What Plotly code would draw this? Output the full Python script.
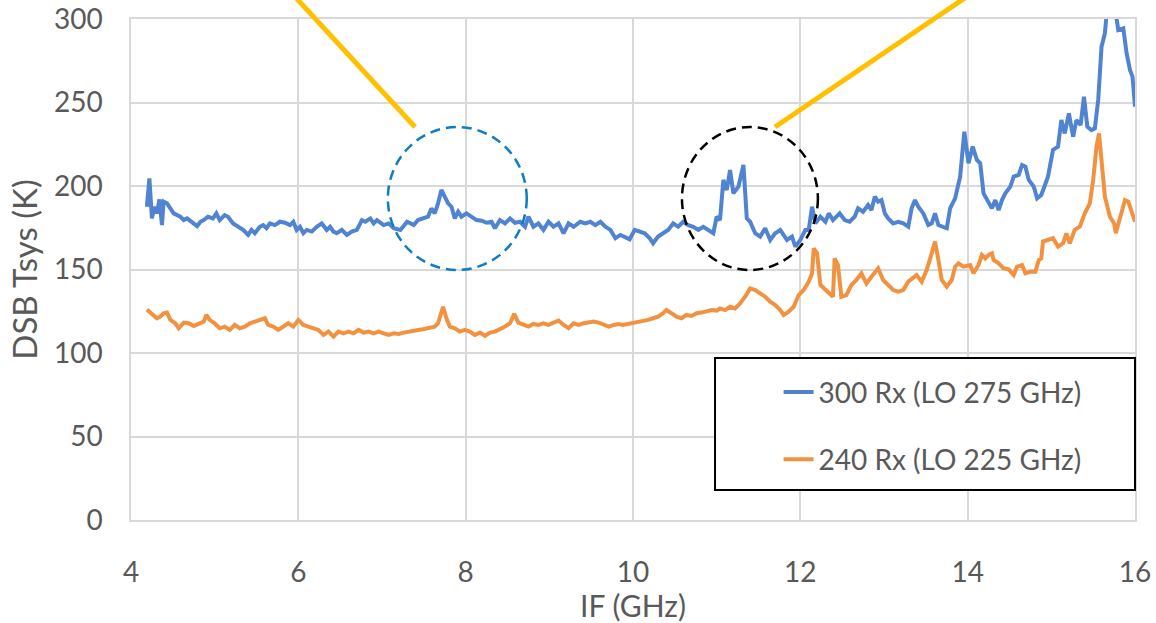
import plotly.graph_objects as go

# ---- data ----
if_300 = [4.19, 4.22, 4.25, 4.28, 4.31, 4.34, 4.37, 4.39, 4.43, 4.47, 4.51, 4.59, 4.63, 4.67, 4.73, 4.79,
          4.83, 4.87, 4.92, 4.98, 5.02, 5.06, 5.12, 5.16, 5.22, 5.28, 5.34, 5.40, 5.44, 5.48, 5.54, 5.58,
          5.62, 5.66, 5.72, 5.78, 5.84, 5.90, 5.94, 5.98, 6.02, 6.06, 6.10, 6.16, 6.22, 6.28, 6.34, 6.38,
          6.42, 6.46, 6.52, 6.58, 6.64, 6.70, 6.76, 6.80, 6.86, 6.90, 6.94, 7.02, 7.08, 7.14, 7.22, 7.30,
          7.38, 7.43, 7.49, 7.55, 7.59, 7.63, 7.67, 7.71, 7.75, 7.79, 7.83, 7.87, 7.91, 7.95, 8.01, 8.07,
          8.13, 8.19, 8.25, 8.31, 8.35, 8.41, 8.47, 8.53, 8.59, 8.65, 8.71, 8.75, 8.81, 8.87, 8.93, 8.99,
          9.05, 9.11, 9.17, 9.23, 9.29, 9.37, 9.43, 9.49, 9.55, 9.61, 9.67, 9.73, 9.79, 9.85, 9.90, 9.96,
          10.02, 10.08, 10.14, 10.20, 10.24, 10.30, 10.36, 10.42, 10.48, 10.54, 10.60, 10.66, 10.72, 10.78,
          10.84, 10.90, 10.96, 11.00, 11.04, 11.08, 11.12, 11.16, 11.20, 11.26, 11.32, 11.36, 11.40, 11.46,
          11.52, 11.58, 11.64, 11.70, 11.76, 11.84, 11.90, 11.94, 12.00, 12.06, 12.10, 12.14, 12.18, 12.24,
          12.30, 12.34, 12.39, 12.47, 12.53, 12.59, 12.65, 12.69, 12.75, 12.81, 12.85, 12.89, 12.93, 12.97,
          13.01, 13.05, 13.11, 13.17, 13.23, 13.29, 13.33, 13.37, 13.41, 13.47, 13.53, 13.57, 13.61, 13.65,
          13.71, 13.75, 13.79, 13.85, 13.91, 13.96, 14.01, 14.06, 14.11, 14.15, 14.19, 14.25, 14.29, 14.33,
          14.37, 14.41, 14.45, 14.51, 14.55, 14.61, 14.65, 14.69, 14.73, 14.79, 14.83, 14.88, 14.92, 14.96,
          15.02, 15.08, 15.12, 15.16, 15.21, 15.26, 15.30, 15.35, 15.39, 15.43, 15.48, 15.52, 15.56, 15.60,
          15.64, 15.67, 15.72, 15.76, 15.80, 15.86, 15.90, 15.94, 15.97, 16.00]
tsys_300 = [187.6, 204.6, 180.6, 187.6, 183.6, 192.0, 176.6, 190.6, 189.6, 186.6, 183.6, 181.6, 179.6, 180.6,
            178.0, 176.0, 178.6, 179.6, 181.6, 180.6, 183.6, 179.6, 182.6, 181.6, 177.6, 175.6, 173.7, 170.7,
            173.7, 171.7, 175.6, 176.6, 174.7, 177.6, 176.6, 178.6, 178.0, 176.6, 178.6, 173.7, 175.6, 171.7,
            173.7, 172.7, 175.6, 177.6, 173.7, 175.6, 172.7, 171.7, 173.7, 170.7, 172.7, 173.7, 179.6, 178.6,
            180.6, 177.6, 179.6, 176.6, 177.6, 174.7, 173.7, 178.6, 176.6, 179.6, 180.6, 181.6, 186.6, 183.6,
            189.6, 197.6, 193.6, 189.6, 187.6, 180.6, 184.6, 181.6, 183.6, 181.6, 179.6, 179.2, 178.0, 178.6,
            174.7, 179.6, 177.6, 180.6, 178.0, 178.6, 175.6, 181.6, 175.6, 177.6, 173.7, 178.6, 175.6, 177.6,
            171.7, 177.6, 175.6, 178.6, 177.6, 178.6, 176.6, 178.6, 175.6, 173.7, 168.7, 170.7, 169.7, 168.1,
            173.7, 172.7, 171.7, 168.7, 165.7, 169.7, 171.7, 173.7, 177.6, 175.6, 178.6, 176.6, 175.6, 173.7,
            175.6, 173.7, 171.7, 181.6, 179.6, 203.6, 197.6, 209.6, 195.6, 199.6, 212.6, 180.6, 178.6, 171.7,
            169.7, 174.7, 167.7, 171.7, 173.7, 167.7, 169.7, 163.7, 167.7, 173.7, 173.7, 187.6, 177.6, 181.6,
            178.6, 183.6, 179.6, 183.6, 179.6, 178.6, 181.6, 186.6, 184.6, 188.6, 185.6, 193.6, 190.6, 191.6,
            183.6, 180.6, 177.6, 178.6, 177.6, 175.6, 186.6, 191.6, 187.6, 183.6, 176.6, 177.6, 183.6, 176.6,
            175.6, 174.7, 186.6, 192.6, 205.6, 232.5, 213.6, 223.6, 215.6, 213.6, 195.6, 189.6, 186.6, 191.6,
            185.6, 191.6, 195.6, 199.6, 205.6, 206.6, 212.6, 211.6, 203.6, 199.6, 192.6, 194.6, 199.6, 205.6,
            221.6, 223.6, 239.5, 231.5, 243.5, 229.5, 239.5, 236.5, 253.5, 235.5, 233.5, 234.5, 251.5, 283.4,
            291.4, 308.0, 304.0, 307.0, 293.4, 294.4, 279.4, 269.5, 265.5, 247.5]

if_240 = [4.19, 4.25, 4.31, 4.35, 4.39, 4.43, 4.47, 4.53, 4.57, 4.63, 4.69, 4.75, 4.81, 4.87, 4.90, 4.94,
          5.00, 5.06, 5.12, 5.18, 5.24, 5.30, 5.36, 5.42, 5.48, 5.54, 5.60, 5.64, 5.70, 5.76, 5.82, 5.88,
          5.94, 6.00, 6.06, 6.12, 6.18, 6.24, 6.30, 6.36, 6.42, 6.48, 6.54, 6.60, 6.66, 6.72, 6.78, 6.84,
          6.90, 6.96, 7.02, 7.08, 7.14, 7.20, 7.26, 7.32, 7.38, 7.43, 7.49, 7.57, 7.63, 7.67, 7.73, 7.77,
          7.81, 7.87, 7.93, 7.99, 8.05, 8.11, 8.17, 8.23, 8.29, 8.35, 8.41, 8.47, 8.53, 8.58, 8.63, 8.69,
          8.75, 8.81, 8.87, 8.93, 8.99, 9.05, 9.11, 9.17, 9.23, 9.29, 9.35, 9.41, 9.47, 9.53, 9.59, 9.65,
          9.71, 9.77, 9.83, 9.88, 9.94, 10.00, 10.06, 10.12, 10.18, 10.24, 10.30, 10.36, 10.40, 10.46,
          10.52, 10.58, 10.64, 10.70, 10.76, 10.82, 10.88, 10.94, 11.00, 11.04, 11.10, 11.16, 11.22, 11.28,
          11.34, 11.40, 11.46, 11.52, 11.58, 11.64, 11.70, 11.76, 11.80, 11.86, 11.92, 11.98, 12.04, 12.10,
          12.14, 12.16, 12.20, 12.24, 12.30, 12.36, 12.39, 12.41, 12.45, 12.49, 12.55, 12.61, 12.67, 12.73,
          12.79, 12.85, 12.93, 12.99, 13.05, 13.11, 13.17, 13.23, 13.29, 13.35, 13.39, 13.45, 13.51, 13.57,
          13.61, 13.65, 13.69, 13.75, 13.81, 13.85, 13.89, 13.95, 14.03, 14.07, 14.13, 14.17, 14.21, 14.25,
          14.29, 14.31, 14.37, 14.43, 14.49, 14.55, 14.59, 14.65, 14.69, 14.75, 14.81, 14.85, 14.88, 14.90,
          14.96, 15.02, 15.08, 15.14, 15.18, 15.22, 15.28, 15.34, 15.40, 15.46, 15.50, 15.54, 15.57, 15.60,
          15.64, 15.70, 15.75, 15.77, 15.82, 15.88, 15.92, 15.96, 16.00]
tsys_240 = [126.1, 123.4, 120.8, 121.8, 123.8, 124.2, 119.8, 117.8, 114.8, 118.2, 117.8, 116.2, 117.8, 118.8,
            122.8, 119.8, 117.8, 114.8, 115.8, 113.8, 116.8, 114.8, 115.8, 117.8, 118.8, 119.8, 120.8, 116.8,
            115.8, 113.8, 115.8, 117.8, 115.8, 119.8, 116.8, 115.8, 114.8, 113.8, 110.8, 112.8, 109.8, 112.8,
            111.8, 112.8, 111.8, 113.8, 112.2, 112.8, 111.8, 112.8, 111.8, 110.8, 111.8, 111.4, 112.2, 112.8,
            113.8, 113.8, 114.2, 114.8, 115.8, 117.8, 127.7, 120.8, 115.8, 114.8, 112.8, 113.8, 112.8, 110.8,
            112.2, 110.2, 112.2, 112.8, 114.2, 115.8, 117.8, 123.4, 118.2, 116.8, 115.8, 117.4, 116.8, 117.8,
            116.8, 118.2, 119.4, 116.8, 114.8, 117.8, 116.8, 117.8, 118.2, 118.8, 118.2, 116.8, 115.8, 116.8,
            117.4, 116.8, 117.4, 117.8, 118.2, 119.4, 119.8, 120.8, 121.8, 123.8, 125.7, 123.8, 121.8, 120.8,
            122.8, 122.2, 123.8, 124.2, 124.8, 125.7, 125.4, 126.7, 125.7, 127.7, 126.7, 129.7, 133.7, 138.7,
            137.7, 135.7, 133.7, 130.7, 128.7, 125.7, 122.8, 124.8, 127.7, 134.7, 137.7, 142.7, 147.7, 162.7,
            159.7, 140.7, 137.7, 134.7, 133.7, 156.7, 152.7, 133.7, 134.7, 140.7, 143.7, 147.7, 141.7, 145.7,
            150.7, 143.7, 140.7, 137.7, 136.7, 137.7, 142.7, 144.7, 146.7, 142.7, 149.7, 159.7, 166.7, 155.7,
            143.7, 139.7, 143.7, 151.7, 153.7, 151.7, 152.7, 147.7, 152.7, 158.7, 156.7, 158.7, 159.7, 155.7,
            153.7, 150.7, 150.1, 146.7, 151.7, 152.7, 147.7, 148.7, 148.7, 155.7, 156.7, 166.7, 167.7, 168.7,
            163.7, 165.7, 171.7, 165.7, 173.7, 175.6, 183.6, 189.6, 203.6, 223.6, 231.5, 213.6, 193.6, 181.6,
            177.6, 171.7, 181.6, 191.6, 190.6, 183.6, 178.6]

series_names = ["300 Rx (LO 275 GHz)", "240 Rx (LO 225 GHz)"]
series_colors = ["#5083D2", "#F29240"]
x_ticks = [4, 6, 8, 10, 12, 14, 16]
y_ticks = [0, 50, 100, 150, 200, 250, 300]

FONT = "Lato"
GREY = "#595959"
GRID = "#d9d9d9"

fig = go.Figure()
fig.add_trace(go.Scatter(x=if_300, y=tsys_300, mode="lines", name=series_names[0],
                         line=dict(color=series_colors[0], width=4), legendgroup="a"))
fig.add_trace(go.Scatter(x=if_240, y=tsys_240, mode="lines", name=series_names[1],
                         line=dict(color=series_colors[1], width=4), legendgroup="b"))

# highlighted regions (dashed circles)
fig.add_shape(type="circle", xref="x", yref="y", x0=7.07, x1=8.73, y0=149.7, y1=235.3,
              line=dict(color="#0F7CC4", width=2.5, dash="10px,6px"))
fig.add_shape(type="circle", xref="x", yref="y", x0=10.585, x1=12.21, y0=149.7, y1=235.3,
              line=dict(color="#000000", width=2.5, dash="10px,6px"))
# yellow pointer lines (leaving the plot at the top)
fig.add_shape(type="line", xref="paper", yref="paper", x0=0.2829, y0=0.7844, x1=0.1571, y1=1.058,
              line=dict(color="#FFC000", width=5))
fig.add_shape(type="line", xref="paper", yref="paper", x0=0.6414, y0=0.7844, x1=0.8423, y1=1.058,
              line=dict(color="#FFC000", width=5))
# legend frame
fig.add_shape(type="rect", xref="paper", yref="paper", x0=0.5817, x1=1.0, y0=0.0599, y1=0.3234,
              line=dict(color="#000000", width=2), fillcolor="white", layer="above")

fig.update_layout(
    width=1156, height=623,
    margin=dict(l=131, r=21, t=19, b=103, autoexpand=False),
    paper_bgcolor="white", plot_bgcolor="white",
    font=dict(family=FONT, size=28, color=GREY),
    showlegend=True,
    legend=dict(x=0.645, y=0.305, xanchor="left", yanchor="top", bgcolor="rgba(0,0,0,0)",
                borderwidth=0, font=dict(family=FONT, size=28, color=GREY), tracegroupgap=28),
    xaxis=dict(range=[4, 16], tickvals=x_ticks, ticktext=[str(v) for v in x_ticks],
               showgrid=True, gridcolor=GRID, gridwidth=1.5, zeroline=False, automargin=False,
               showline=True, linecolor=GRID, linewidth=1.5, mirror=True,
               ticks="outside", ticklen=27, tickcolor="rgba(0,0,0,0)", ticklabeloverflow="allow",
               title=dict(text="IF (GHz)", font=dict(family=FONT, size=30, color=GREY), standoff=0)),
    yaxis=dict(range=[0, 300], tickvals=y_ticks, ticktext=[str(v) for v in y_ticks],
               showgrid=True, gridcolor=GRID, gridwidth=1.5, zeroline=False, automargin=False,
               showline=True, linecolor=GRID, linewidth=1.5, mirror=True,
               ticks="outside", ticklen=21, tickcolor="rgba(0,0,0,0)", ticklabeloverflow="allow",
               title=dict(text="DSB Tsys (K)", font=dict(family=FONT, size=33, color=GREY), standoff=6)),
)

# remove the browser's default 8 px page margin so the figure sits at the window's corner
fig.write_html("out.html", config={"displayModeBar": False},
               post_script="document.body.style.margin='0px';")
